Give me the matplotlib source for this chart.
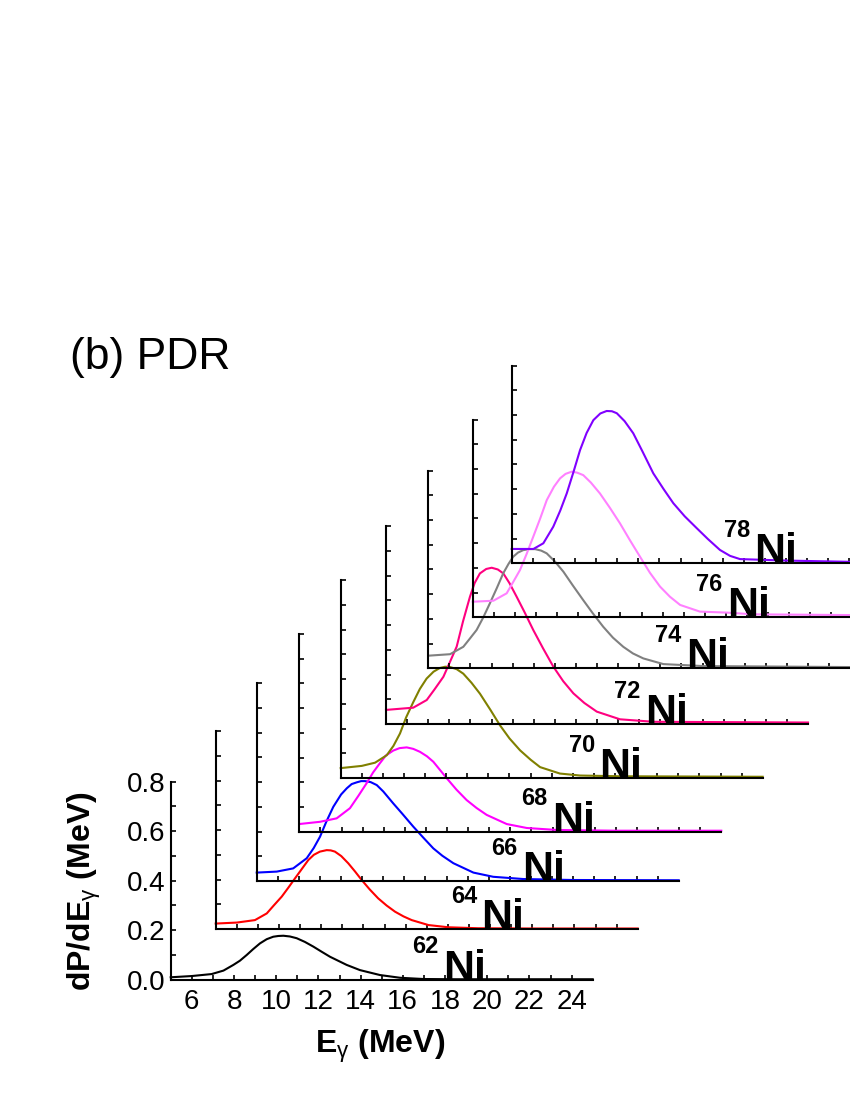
import matplotlib.pyplot as plt

plt.rcParams['font.family'] = ['Liberation Sans', 'DejaVu Sans']
plt.rcParams['mathtext.fontset'] = 'custom'
plt.rcParams['mathtext.rm'] = 'Liberation Sans'
plt.rcParams['mathtext.it'] = 'Liberation Sans'
plt.rcParams['mathtext.bf'] = 'Liberation Sans:bold'

# isotopes, bottom to top
isotopes = ["62", "64", "66", "68", "70", "72", "74", "76", "78"]
colors = ["#000000", "#ff0000", "#0000ff", "#ff00ff", "#808000",
          "#ff0080", "#808080", "#ff80ff", "#8000ff"]

e62 = [5.0, 6.0, 6.94, 7.5, 7.97, 8.28, 8.6, 8.91, 9.23, 9.55, 9.86, 10.1, 10.34, 10.65, 10.97, 11.36, 11.76, 12.16, 12.55, 13.34, 13.97, 14.92, 15.87, 16.97, 18.5, 21.0, 25.0]
p62 = [0.009, 0.014, 0.022, 0.036, 0.059, 0.076, 0.099, 0.123, 0.146, 0.163, 0.173, 0.176, 0.177, 0.174, 0.167, 0.152, 0.133, 0.112, 0.092, 0.059, 0.038, 0.018, 0.007, 0.002, 0.001, 0.001, 0.001]

e64 = [5.0, 6.0, 6.86, 7.42, 7.75, 8.13, 8.45, 8.76, 9.39, 9.65, 9.94, 10.26, 10.45, 10.65, 10.95, 11.28, 11.6, 11.92, 12.3, 12.7, 13.1, 13.5, 13.9, 14.29, 15.08, 16.02, 17.45, 20.0, 25.0]
p64 = [0.022, 0.026, 0.036, 0.063, 0.095, 0.131, 0.168, 0.205, 0.279, 0.300, 0.313, 0.319, 0.318, 0.313, 0.295, 0.266, 0.233, 0.198, 0.160, 0.124, 0.095, 0.070, 0.051, 0.036, 0.016, 0.007, 0.003, 0.002, 0.002]

e66 = [5.0, 5.95, 6.73, 7.37, 7.7, 8.0, 8.3, 8.63, 9.0, 9.27, 9.5, 9.74, 9.95, 10.13, 10.4, 10.69, 11.0, 11.47, 11.9, 12.42, 12.9, 13.37, 13.8, 14.32, 15.27, 16.21, 17.63, 20.0, 25.0]
p66 = [0.034, 0.038, 0.051, 0.092, 0.133, 0.179, 0.240, 0.300, 0.350, 0.375, 0.392, 0.399, 0.404, 0.404, 0.400, 0.388, 0.362, 0.314, 0.272, 0.220, 0.175, 0.132, 0.102, 0.072, 0.034, 0.017, 0.008, 0.004, 0.003]

e68 = [5.0, 5.98, 6.77, 7.4, 7.8, 8.19, 8.5, 8.82, 9.1, 9.45, 9.75, 10.09, 10.4, 10.72, 11.05, 11.35, 11.99, 12.45, 12.93, 13.4, 13.88, 14.83, 15.78, 17.2, 20.0, 25.0]
p68 = [0.031, 0.040, 0.054, 0.095, 0.145, 0.196, 0.240, 0.277, 0.308, 0.328, 0.338, 0.341, 0.335, 0.323, 0.305, 0.283, 0.216, 0.170, 0.128, 0.096, 0.068, 0.031, 0.015, 0.007, 0.004, 0.004]

e70 = [5.0, 6.0, 6.63, 7.18, 7.5, 7.81, 8.1, 8.44, 8.75, 9.07, 9.4, 9.7, 9.95, 10.18, 10.5, 10.81, 11.2, 11.6, 12.1, 12.55, 13.0, 13.5, 14.0, 14.45, 15.39, 16.34, 18.23, 25.0]
p70 = [0.040, 0.049, 0.062, 0.092, 0.130, 0.180, 0.245, 0.307, 0.360, 0.402, 0.430, 0.445, 0.450, 0.449, 0.440, 0.422, 0.385, 0.341, 0.275, 0.213, 0.160, 0.112, 0.074, 0.044, 0.018, 0.010, 0.007, 0.005]

e72 = [5.0, 6.29, 6.93, 7.3, 7.72, 8.0, 8.35, 8.65, 8.98, 9.2, 9.45, 9.75, 10.01, 10.3, 10.56, 10.85, 11.19, 11.55, 11.98, 12.45, 12.93, 13.4, 13.88, 14.4, 14.99, 16.09, 17.67, 25.0]
p72 = [0.057, 0.066, 0.097, 0.140, 0.191, 0.245, 0.313, 0.415, 0.515, 0.570, 0.609, 0.627, 0.632, 0.625, 0.609, 0.570, 0.515, 0.455, 0.380, 0.305, 0.232, 0.173, 0.124, 0.085, 0.050, 0.019, 0.009, 0.006]

e74 = [5.0, 6.03, 6.66, 6.95, 7.29, 7.6, 7.92, 8.25, 8.55, 8.8, 9.02, 9.25, 9.5, 9.8, 10.06, 10.35, 10.61, 11.0, 11.4, 11.85, 12.34, 12.8, 13.29, 13.75, 14.24, 14.7, 15.19, 16.14, 18.03, 25.0]
p74 = [0.051, 0.057, 0.087, 0.118, 0.155, 0.205, 0.263, 0.325, 0.384, 0.422, 0.451, 0.468, 0.478, 0.482, 0.482, 0.476, 0.465, 0.432, 0.391, 0.335, 0.276, 0.222, 0.168, 0.124, 0.087, 0.060, 0.040, 0.017, 0.009, 0.005]

e76 = [5.0, 5.98, 6.61, 6.9, 7.24, 7.55, 7.87, 8.2, 8.51, 8.85, 9.14, 9.4, 9.69, 9.95, 10.24, 10.6, 11.03, 11.5, 11.98, 12.45, 12.93, 13.4, 13.88, 14.35, 14.83, 15.77, 17.04, 18.3, 22.88, 25.0]
p76 = [0.063, 0.067, 0.097, 0.140, 0.191, 0.255, 0.326, 0.400, 0.474, 0.528, 0.562, 0.580, 0.589, 0.585, 0.575, 0.545, 0.501, 0.443, 0.380, 0.312, 0.245, 0.180, 0.124, 0.083, 0.050, 0.023, 0.019, 0.012, 0.009, 0.009]

e78 = [5.0, 6.03, 6.5, 6.97, 7.3, 7.61, 7.93, 8.24, 8.55, 8.87, 9.2, 9.5, 9.75, 9.98, 10.35, 10.76, 11.2, 11.71, 12.2, 12.66, 13.2, 13.77, 14.3, 14.87, 15.35, 15.82, 18.03, 21.03, 25.0]
p78 = [0.058, 0.058, 0.081, 0.148, 0.213, 0.283, 0.370, 0.458, 0.527, 0.579, 0.606, 0.616, 0.615, 0.607, 0.575, 0.526, 0.452, 0.364, 0.300, 0.243, 0.190, 0.142, 0.098, 0.054, 0.030, 0.017, 0.011, 0.006, 0.006]

energies = [e62, e64, e66, e68, e70, e72, e74, e76, e78]
values = [p62, p64, p66, p68, p70, p72, p74, p76, p78]

# where each label "ANi" starts on its own energy axis
label_x = [17.9, 17.6, 17.56, 16.96, 17.26, 17.27, 17.2, 17.04, 16.5]

# layout of the stacked frames (pixels: left spine x, bottom spine y)
W, H = 850, 1100
frame_left = [170.7, 215.7, 256.7, 299.3, 340.7, 386.0, 428.3, 472.7, 511.7]
frame_bottom = [979.5, 929.0, 881.0, 831.7, 778.0, 724.0, 668.3, 617.3, 563.3]
frame_w, frame_h = 422.0, 197.8

fig = plt.figure(figsize=(W / 100, H / 100), dpi=100)

for i, iso in enumerate(isotopes):
    ax = fig.add_axes([frame_left[i] / W, (H - frame_bottom[i]) / H, frame_w / W, frame_h / H])
    ax.patch.set_alpha(0)
    ax.set_xlim(5, 25)
    ax.set_ylim(0, 0.8)
    for side in ["top", "right"]:
        ax.spines[side].set_visible(False)
    for side in ["left", "bottom"]:
        ax.spines[side].set_linewidth(1.5)
    ax.set_xticks(range(6, 25, 2))
    ax.set_xticks(range(7, 25, 2), minor=True)
    ax.set_yticks([0.0, 0.2, 0.4, 0.6, 0.8])
    ax.set_yticks([0.1, 0.3, 0.5, 0.7], minor=True)
    ax.tick_params(which="both", direction="in", length=3.5, width=1.2)
    ax.tick_params(axis="x", pad=7, labelsize=20)
    ax.tick_params(axis="y", pad=4, labelsize=20)
    if i > 0:
        ax.set_xticklabels([])
        ax.set_yticklabels([])
    else:
        ax.set_yticklabels(["0.0", "0.2", "0.4", "0.6", "0.8"])

    ax.plot(energies[i], values[i], color=colors[i], lw=1.5, clip_on=False)

    ax.annotate("Ni", xy=(label_x[i], 0.0), ha="left", va="baseline",
                fontsize=31, fontweight="bold", annotation_clip=False)
    ax.annotate(iso, xy=(label_x[i], 0.0), xytext=(-3, 19), textcoords="offset points",
                ha="right", va="baseline", fontsize=17, fontweight="bold",
                annotation_clip=False)

fig.text(380 / W, 1 - 1046 / H, r"E$_\gamma$ (MeV)", ha="center", va="center",
         fontsize=23, fontweight="bold")
fig.text(84 / W, 1 - 891 / H, r"dP/dE$_\gamma$ (MeV)", ha="center", va="center",
         rotation=90, fontsize=23, fontweight="bold")
fig.text(70 / W, 1 - 369 / H, "(b) PDR", ha="left", va="baseline", fontsize=32)

fig.savefig("out.png", dpi=100)
